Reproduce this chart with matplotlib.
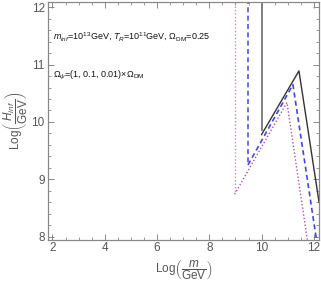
import matplotlib
matplotlib.use("Agg")
import matplotlib.pyplot as plt
from matplotlib.ticker import MultipleLocator

plt.rcParams['font.family'] = ['Liberation Sans', 'DejaVu Sans']
plt.rcParams['mathtext.fontset'] = 'custom'
plt.rcParams['mathtext.rm'] = 'Liberation Sans'
plt.rcParams['mathtext.it'] = 'Liberation Sans:italic'
plt.rcParams['mathtext.bf'] = 'Liberation Sans:bold'

# vertical segments (x, y_top, y_bottom)
vert_x = [10.0, 9.48, 8.97]
vert_ytop = [12.2, 12.2, 12.2]
vert_ybot = [9.86, 9.27, 8.76]

# wedge segments
black_x = [10.0, 11.43, 12.2]
black_y = [9.78, 10.89, 8.6]
blue_x = [9.48, 11.2, 12.1]
blue_y = [9.25, 10.65, 7.95]
pink_x = [8.97, 10.97, 11.75]
pink_y = [8.74, 10.34, 7.95]

fig = plt.figure(figsize=(3.21, 2.88), dpi=100)
ax = fig.add_axes([0.148, 0.168, 0.846, 0.825])

gray = '#888888'
# vertical parts
ax.plot([vert_x[0], vert_x[0]], [vert_ytop[0], vert_ybot[0]], color='#777777', lw=1.3)
ax.plot([vert_x[1], vert_x[1]], [vert_ytop[1], vert_ybot[1]], color='#5555ee', lw=1.2, dashes=(3, 2))
ax.plot([vert_x[2], vert_x[2]], [vert_ytop[2], vert_ybot[2]], color='#cc88cc', lw=1.0, dashes=(1, 1.5))

ax.plot(black_x, black_y, color='#333333', lw=1.0)
ax.plot(blue_x, blue_y, color='#4444ee', lw=1.2, dashes=(3, 2))
ax.plot(pink_x, pink_y, color='#b050b0', lw=1.0, dashes=(1, 1.5))

ax.set_xlim(1.81, 12.2)
ax.set_ylim(7.95, 12.09)

ax.xaxis.set_major_locator(MultipleLocator(2))
ax.xaxis.set_minor_locator(MultipleLocator(0.5))
ax.yaxis.set_major_locator(MultipleLocator(1))
ax.yaxis.set_minor_locator(MultipleLocator(0.2))
ax.tick_params(which='both', direction='in', top=True, right=True, color=gray,
               labelcolor='#555555', labelsize=8.5, pad=2)
ax.tick_params(which='major', length=4, width=0.7)
ax.tick_params(which='minor', length=2, width=0.6)
for s in ax.spines.values():
    s.set_color(gray)
    s.set_linewidth(0.9)

ax.text(2.02, 11.43, r'$m_{\mathit{inf}}$=10$^{13}$GeV, $T_R$=10$^{11}$GeV, $\Omega_{\mathrm{DM}}$=0.25',
        fontsize=6.5, color='#111111', va='baseline', ha='left')
ax.text(2.02, 10.78, r'$\Omega_{\psi}$=(1, 0.1, 0.01)$\times\Omega_{\mathrm{DM}}$',
        fontsize=6.5, color='#111111', va='baseline', ha='left')

ax.set_xlabel(r'Log$\left(\dfrac{m}{\mathrm{GeV}}\right)$', fontsize=8.5, color='#555555', labelpad=3)
ax.set_ylabel(r'Log$\left(\dfrac{H_{\mathit{inf}}}{\mathrm{GeV}}\right)$', fontsize=8.5, color='#555555', labelpad=1)

fig.savefig('out.png', dpi=100)
